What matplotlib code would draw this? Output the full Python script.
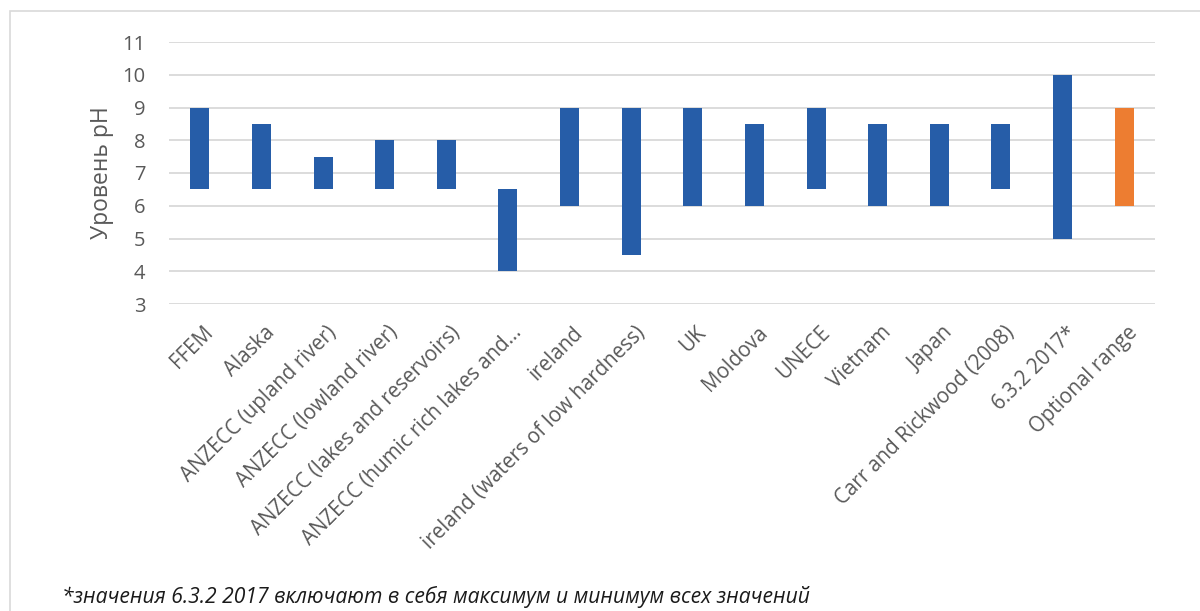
import matplotlib.pyplot as plt
import matplotlib.transforms as mtransforms
from matplotlib.patches import Rectangle

# Data
categories = ['FFEM', 'Alaska', 'ANZECC (upland river)', 'ANZECC (lowland river)',
              'ANZECC (lakes and reservoirs)', 'ANZECC (humic rich lakes and…',
              'ireland', 'ireland (waters of low hardness)', 'UK', 'Moldova', 'UNECE',
              'Vietnam', 'Japan', 'Carr and Rickwood (2008)', '6.3.2 2017*', 'Optional range']
ph_min = [6.5, 6.5, 6.5, 6.5, 6.5, 4, 6, 4.5, 6, 6, 6.5, 6, 6, 6.5, 5, 6]
ph_max = [9, 8.5, 7.5, 8, 8, 6.5, 9, 9, 9, 8.5, 9, 8.5, 8.5, 8.5, 10, 9]
y_ticks = [3, 4, 5, 6, 7, 8, 9, 10, 11]

blue = '#265DA8'
orange = '#ED7D31'
colors = [blue] * (len(categories) - 1) + [orange]

plt.rcParams['font.family'] = ['Open Sans', 'DejaVu Sans']

fig = plt.figure(figsize=(12, 6.11), dpi=100)
ax = fig.add_axes([169 / 1200, 1 - 304 / 611, (1155 - 169) / 1200, (304 - 42) / 611])

x = range(len(categories))
heights = [hi - lo for lo, hi in zip(ph_min, ph_max)]
ax.bar(x, heights, bottom=ph_min, width=0.31, color=colors, zorder=3)

ax.set_xlim(-0.5, len(categories) - 0.5)
ax.set_ylim(3, 11)
ax.set_yticks(y_ticks)
ax.yaxis.grid(True, color='#D9D9D9', linewidth=1.3, zorder=0)
for s in ax.spines.values():
    s.set_visible(False)
ax.tick_params(axis='both', length=0, colors='#595959')
ax.tick_params(axis='y', pad=17, labelsize=14.5)
ax.set_xticks(list(x))
ax.set_xticklabels(categories, rotation=45, ha='right', rotation_mode='anchor',
                   fontsize=14.8, color='#595959')
ax.tick_params(axis='x', pad=13)
# nudge the rotated labels a little to the right
offset = mtransforms.ScaledTranslation(3 / 100, 0, fig.dpi_scale_trans)
for lbl in ax.get_xticklabels():
    lbl.set_transform(lbl.get_transform() + offset)
ax.set_ylabel('Уровень pH', fontsize=16.5, color='#595959', labelpad=6)

# outer chart border
fig.patches.append(Rectangle((10 / 1200, -0.01), 1.02, 1 - 11 / 611 + 0.01,
                             transform=fig.transFigure, fill=False,
                             edgecolor='#D9D9D9', linewidth=1.2))

fig.text(62 / 1200, 1 - 597 / 611, '*значения 6.3.2 2017 включают в себя максимум и минимум всех значений',
         fontsize=15.2, style='italic', va='center', ha='left', color='#1a1a1a')

fig.savefig('out.png', dpi=100)
